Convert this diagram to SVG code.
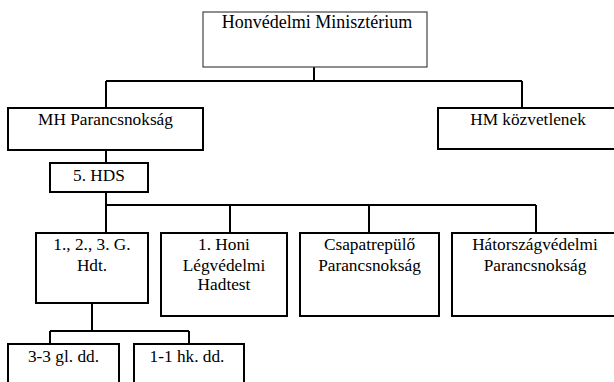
<svg xmlns="http://www.w3.org/2000/svg" width="614" height="382" viewBox="0 0 614 382">
<style>
.box{fill:#fff;stroke:#000;stroke-width:2}
.top{fill:#fff;stroke:#444;stroke-width:1.2}
text{font-family:'Liberation Serif','Times New Roman','DejaVu Serif',serif;font-size:17.3px;fill:#000;text-anchor:middle}
.c{fill:none;stroke:#000;stroke-width:2}
</style>
<rect width="614" height="382" fill="#fff"/>
<g id="connectors">
<path class="c" d="M314,67V81M106,81H522M106,81V108M522,81V108"/>
<path class="c" d="M106,150V163M106,192V205M106,205H536M106,205V233M230,205V233M369,205V233M536,205V233"/>
<path class="c" d="M92,303V331M50,331H189M50,331V344M189,331V344"/>
</g>
<g id="hm"><rect class="top" x="203" y="12" width="224" height="55"/><text x="317" y="27.5" style="font-size:18px">Honvédelmi Minisztérium</text></g>
<g id="mhp"><rect class="box" x="8" y="108" width="195" height="42"/><text x="105.5" y="125">MH Parancsnokság</text></g>
<g id="hmk"><rect class="box" x="438" y="108" width="180" height="41"/><text x="528" y="125">HM közvetlenek</text></g>
<g id="hds"><rect class="box" x="50" y="163" width="98" height="29"/><text x="99" y="181">5. HDS</text></g>
<g id="hdt"><rect class="box" x="36" y="233" width="112" height="70"/><text x="92" y="250">1., 2., 3. G.</text><text x="92" y="271">Hdt.</text></g>
<g id="honi"><rect class="box" x="161" y="233" width="126" height="83"/><text x="224" y="250">1. Honi</text><text x="224" y="271">Légvédelmi</text><text x="224" y="290">Hadtest</text></g>
<g id="csap"><rect class="box" x="300" y="233" width="139" height="83"/><text x="369.5" y="250">Csapatrepülő</text><text x="369.5" y="271">Parancsnokság</text></g>
<g id="hat"><rect class="box" x="452" y="233" width="166" height="83"/><text x="535" y="250">Hátországvédelmi</text><text x="535" y="271">Parancsnokság</text></g>
<g id="gl"><rect class="box" x="8" y="344" width="111" height="50"/><text x="63.5" y="362">3-3 gl. dd.</text></g>
<g id="hk"><rect class="box" x="134" y="344" width="110" height="50"/><text x="187" y="362">1-1 hk. dd.</text></g>
</svg>
